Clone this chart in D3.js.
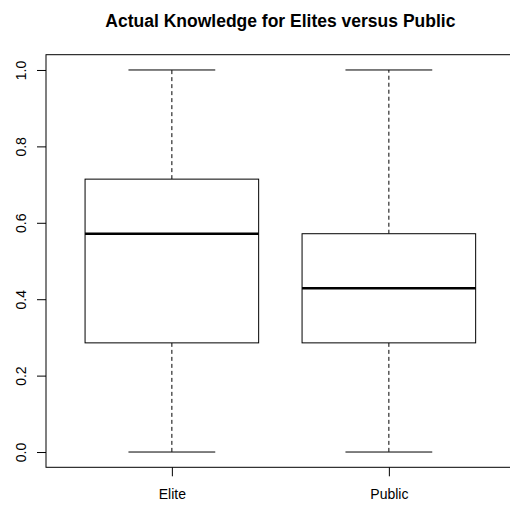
<!DOCTYPE html>
<html>
<head>
<meta charset="utf-8">
<script src="https://cdn.jsdelivr.net/npm/d3@7"></script>
<style>
  html, body { margin: 0; padding: 0; background: #fff; }
  svg { display: block; }
  text { font-family: "Liberation Sans", Arial, sans-serif; fill: #000; }
</style>
</head>
<body>
<svg id="chart" width="510" height="506"></svg>
<script>
// Data (five-number summaries)
const categories = ["Elite", "Public"];
const minVals    = [0.0, 0.0];
const q1Vals     = [0.2857, 0.2857];
const medianVals = [0.5714, 0.4286];
const q3Vals     = [0.7143, 0.5714];
const maxVals    = [1.0, 1.0];
const yTicks     = [0.0, 0.2, 0.4, 0.6, 0.8, 1.0];
const titleText  = "Actual Knowledge for Elites versus Public";

const svg = d3.select("#chart");

const x = d3.scaleLinear().domain([0.42, 2.58]).range([46, 46 + 2.16 * 217]);
const y = d3.scaleLinear().domain([-0.04, 1.04]).range([467.3, 54.7]);

const boxHalf = 0.4, capHalf = 0.2;

const data = categories.map((c, i) => ({
  name: c, pos: i + 1,
  min: minVals[i], q1: q1Vals[i], med: medianVals[i], q3: q3Vals[i], max: maxVals[i]
}));

const g = svg.append("g");

data.forEach(d => {
  const cx = x(d.pos);
  // whiskers (dashed)
  g.append("line").attr("x1", cx).attr("x2", cx).attr("y1", y(d.q3)).attr("y2", y(d.max))
    .attr("stroke", "#000").attr("stroke-dasharray", "4,3");
  g.append("line").attr("x1", cx).attr("x2", cx).attr("y1", y(d.q1)).attr("y2", y(d.min))
    .attr("stroke", "#000").attr("stroke-dasharray", "4,3");
  // caps
  [d.min, d.max].forEach(v => {
    g.append("line").attr("x1", x(d.pos - capHalf)).attr("x2", x(d.pos + capHalf))
      .attr("y1", y(v)).attr("y2", y(v)).attr("stroke", "#000");
  });
  // box
  g.append("rect")
    .attr("x", x(d.pos - boxHalf)).attr("width", x(d.pos + boxHalf) - x(d.pos - boxHalf))
    .attr("y", y(d.q3)).attr("height", y(d.q1) - y(d.q3))
    .attr("fill", "#fff").attr("stroke", "#000");
  // median
  g.append("line").attr("x1", x(d.pos - boxHalf)).attr("x2", x(d.pos + boxHalf))
    .attr("y1", y(d.med)).attr("y2", y(d.med)).attr("stroke", "#000").attr("stroke-width", 2.6);
});

// plot frame
svg.append("rect").attr("x", x.range()[0]).attr("y", y.range()[1])
  .attr("width", x.range()[1] - x.range()[0]).attr("height", y.range()[0] - y.range()[1])
  .attr("fill", "none").attr("stroke", "#000");

// y axis
const yAxis = svg.append("g").attr("transform", `translate(${x.range()[0]},0)`)
  .call(d3.axisLeft(y).tickValues(yTicks).tickFormat(d3.format(".1f")).tickSize(9).tickPadding(0));
yAxis.select(".domain").remove();
yAxis.selectAll(".tick line").attr("stroke", "#000");
yAxis.selectAll(".tick text")
  .attr("x", 0).attr("y", 0).attr("dy", null)
  .attr("text-anchor", "middle")
  .style("font-size", "14px")
  .attr("transform", "translate(-20,0) rotate(-90)");

// x axis
const xAxis = svg.append("g").attr("transform", `translate(0,${y.range()[0]})`)
  .call(d3.axisBottom(x).tickValues(data.map(d => d.pos)).tickFormat((d, i) => categories[i]).tickSize(9).tickPadding(0));
xAxis.select(".domain").remove();
xAxis.selectAll(".tick line").attr("stroke", "#000");
xAxis.selectAll(".tick text").attr("y", 32).attr("dy", null).style("font-size", "14px");

// title
svg.append("text").attr("x", (x.range()[0] + x.range()[1]) / 2).attr("y", 27)
  .attr("text-anchor", "middle").style("font-size", "17.5px").style("font-weight", "bold")
  .text(titleText);
</script>
</body>
</html>
